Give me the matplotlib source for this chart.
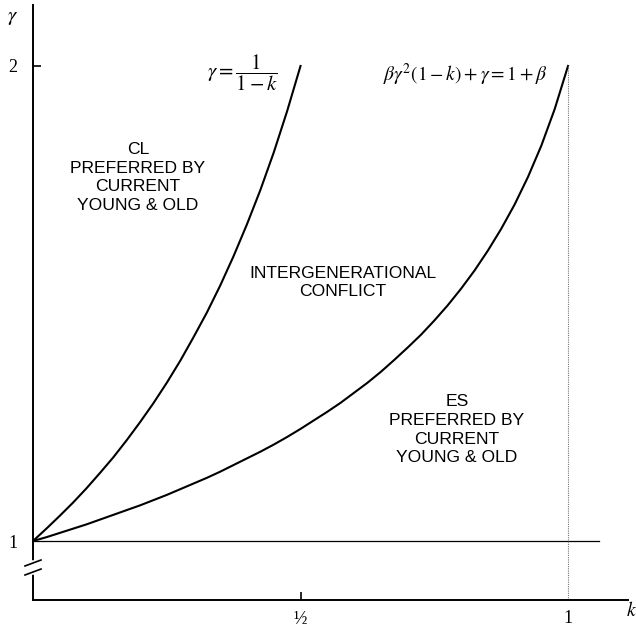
import matplotlib
matplotlib.use("Agg")
import matplotlib.pyplot as plt

plt.rcParams["mathtext.fontset"] = "stix"

# boundary where CL and the status quo split: gamma = 1/(1-k)
k_cl = [0.000, 0.025, 0.050, 0.075, 0.100, 0.125, 0.150, 0.175, 0.200, 0.225, 0.250,
        0.275, 0.300, 0.325, 0.350, 0.375, 0.400, 0.425, 0.450, 0.475, 0.500]
gamma_cl = [1.000, 1.026, 1.053, 1.081, 1.111, 1.143, 1.176, 1.212, 1.250, 1.290, 1.333,
            1.379, 1.429, 1.481, 1.538, 1.600, 1.667, 1.739, 1.818, 1.905, 2.000]

# boundary for ES: beta*gamma^2*(1-k) + gamma = 1 + beta
k_es = [0.000, 0.025, 0.050, 0.075, 0.100, 0.125, 0.150, 0.175, 0.200, 0.225, 0.250,
        0.275, 0.300, 0.325, 0.350, 0.375, 0.400, 0.425, 0.450, 0.475, 0.500,
        0.525, 0.550, 0.575, 0.600, 0.625, 0.650, 0.675, 0.700, 0.725, 0.750,
        0.775, 0.800, 0.825, 0.850, 0.875, 0.900, 0.925, 0.950, 0.975, 1.000]
gamma_es = [1.000, 1.008, 1.017, 1.026, 1.035, 1.045, 1.055, 1.065, 1.075, 1.086, 1.097,
            1.109, 1.121, 1.133, 1.146, 1.160, 1.174, 1.188, 1.203, 1.219, 1.236,
            1.254, 1.272, 1.291, 1.312, 1.333, 1.356, 1.381, 1.407, 1.434, 1.464,
            1.496, 1.531, 1.569, 1.611, 1.657, 1.708, 1.766, 1.832, 1.909, 2.000]

x_ticks = [0.5, 1.0]
x_tick_labels = ["½", "1"]
y_ticks = [1, 2]
y_tick_labels = ["1", "2"]

region_labels = [
    (0.196, 1.765, "CL\nPREFERRED BY\nCURRENT\nYOUNG & OLD"),
    (0.579, 1.544, "INTERGENERATIONAL\nCONFLICT"),
    (0.7925, 1.234, "ES\nPREFERRED BY\nCURRENT\nYOUNG & OLD"),
]

fig = plt.figure(figsize=(6.36, 6.30), dpi=100)
ax = fig.add_axes([33 / 636, 30 / 630, 595 / 636, 595 / 630])
ax.set_xlim(0, 1.1121)
ax.set_ylim(0.8758, 2.1284)

for side in ("top", "right"):
    ax.spines[side].set_visible(False)
for side in ("left", "bottom"):
    ax.spines[side].set_linewidth(1.4)
    ax.spines[side].set_color("black")

# curves and guide lines
ax.plot(k_cl, gamma_cl, color="black", lw=1.5, solid_joinstyle="round")
ax.plot(k_es, gamma_es, color="black", lw=1.5, solid_joinstyle="round")
ax.plot([0, 1.058], [1, 1], color="black", lw=0.9)
ax.plot([1, 1], [ax.get_ylim()[0], 2], color="#777777", lw=0.8, ls=(0, (1, 1)))

# axis break on gamma below 1
ax.plot([0, 0], [0.9347, 0.9537], color="white", lw=4, clip_on=False, zorder=5)
for c in (0.9537, 0.9347):
    ax.plot([-0.015, 0.015], [c - 0.0063, c + 0.0063], color="black", lw=1.2,
            clip_on=False, zorder=6)

ax.set_xticks(x_ticks, x_tick_labels)
ax.set_yticks(y_ticks, y_tick_labels)
ax.tick_params(direction="in", length=5.5, width=1.2, labelsize=13)
ax.tick_params(axis="y", pad=11)
ax.tick_params(axis="x", pad=7)
ax.xaxis.get_major_ticks()[1].tick1line.set_visible(False)
ax.yaxis.get_major_ticks()[0].tick1line.set_visible(False)
for lab in ax.get_xticklabels() + ax.get_yticklabels():
    lab.set_fontfamily("Liberation Serif")

# axis names
ax.text(-0.0374, 2.103, r"$\gamma$", fontsize=15, ha="center", va="center", clip_on=False)
ax.text(1.1084, 0.853, r"$k$", fontsize=14, ha="left", va="center", clip_on=False)

# curve labels
ax.text(0.3925, 1.985, r"$\gamma = \dfrac{1}{1-k}$", fontsize=15, ha="center", va="center")
ax.text(0.8075, 1.981, r"$\beta\gamma^2(1-k)+\gamma = 1+\beta$", fontsize=14,
        ha="center", va="center")

for x, y, txt in region_labels:
    ax.text(x, y, txt, fontsize=12.6, family="Liberation Sans", ha="center", va="center",
            multialignment="center", linespacing=1.3)

fig.savefig("out.png", dpi=100)
plt.close(fig)
